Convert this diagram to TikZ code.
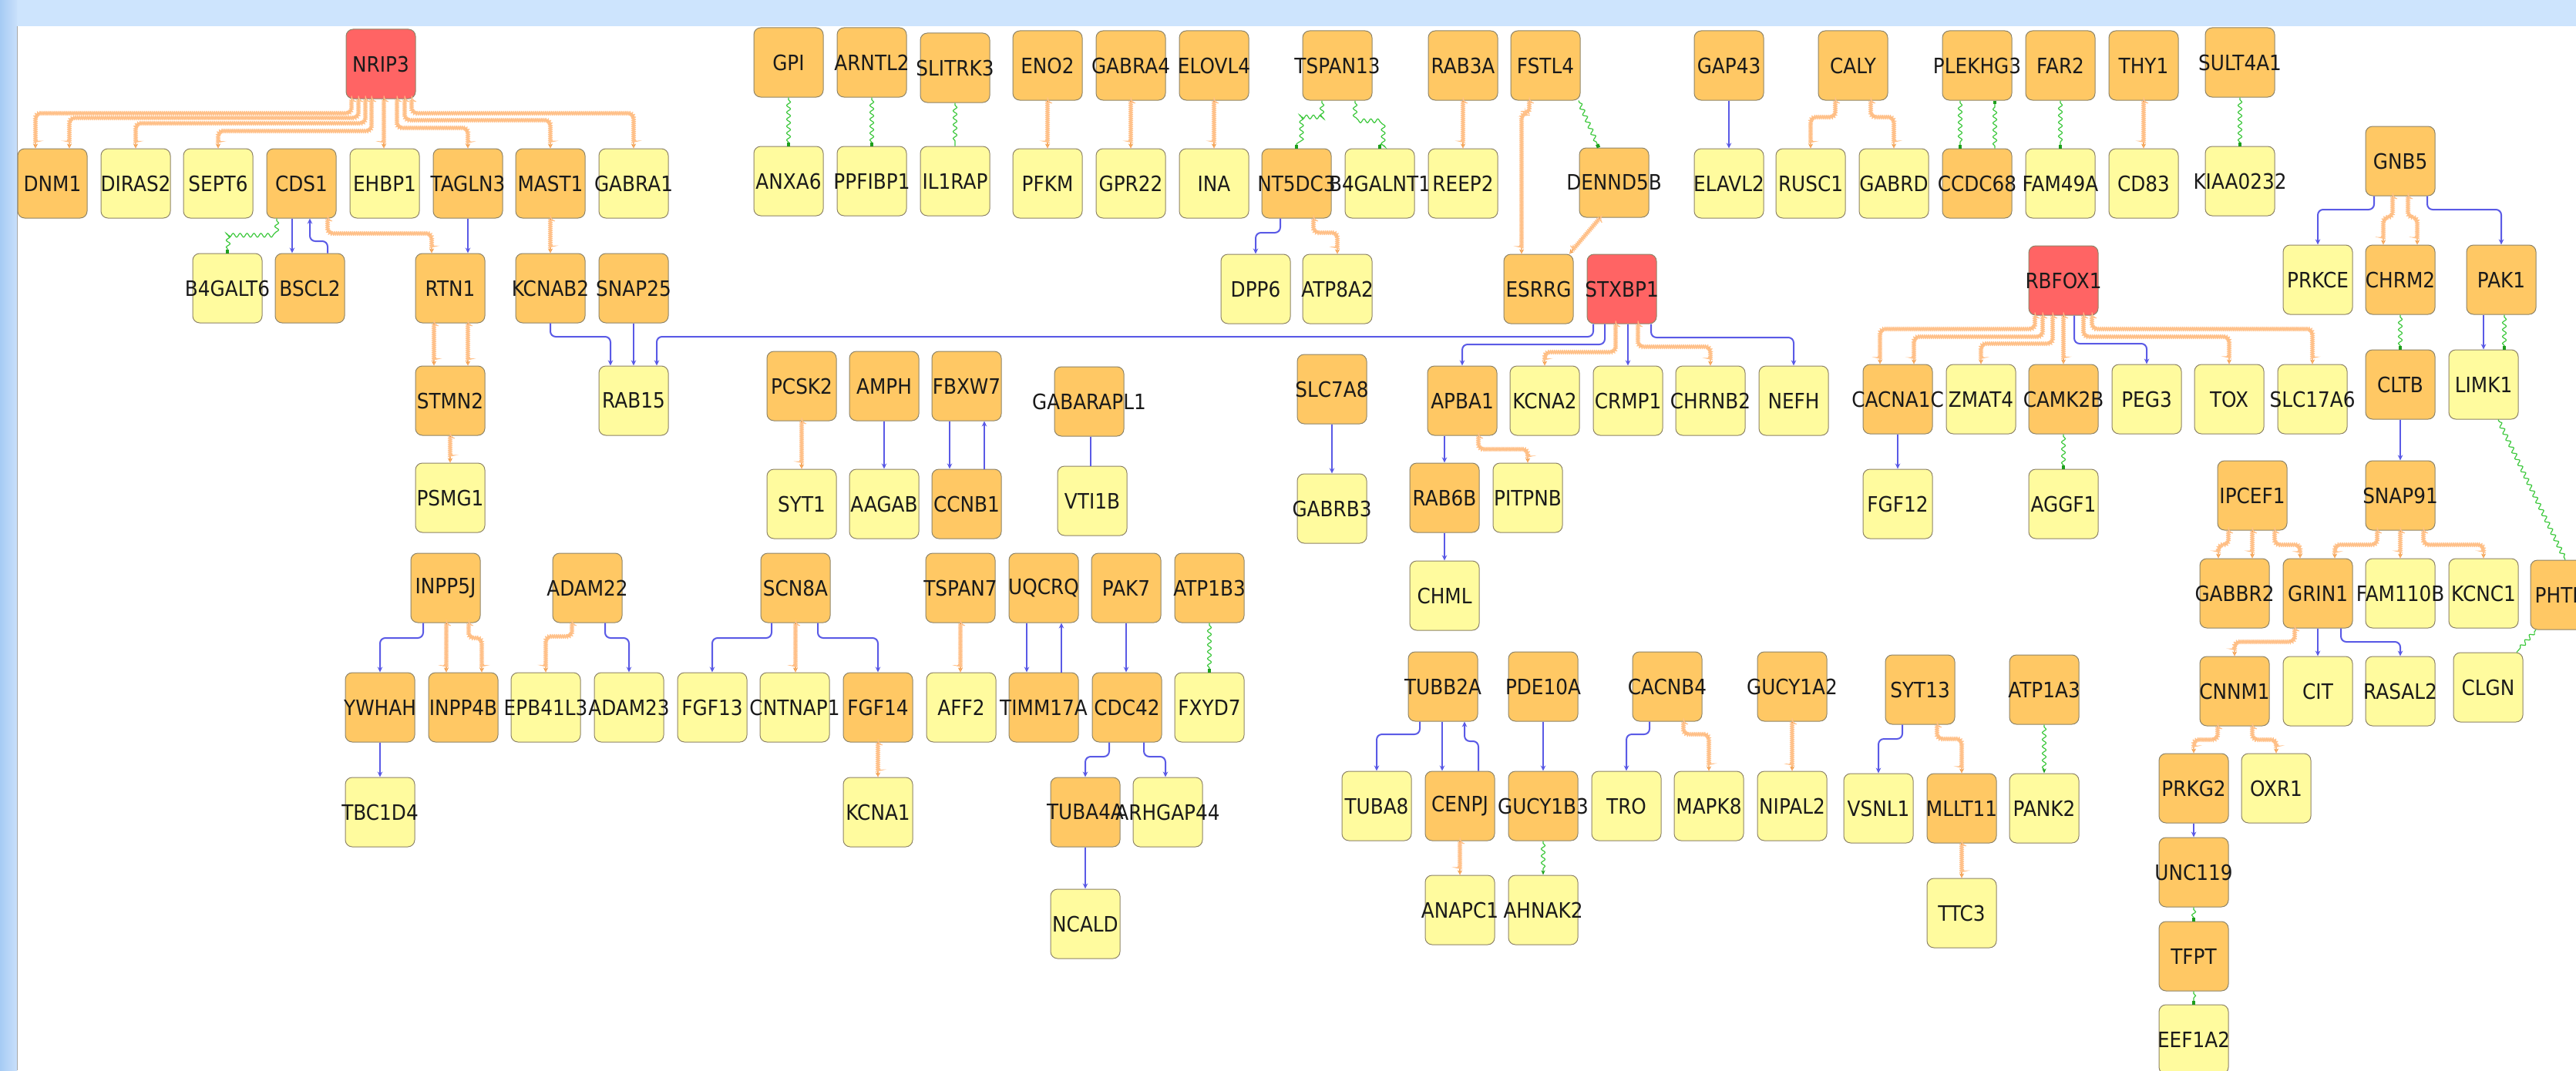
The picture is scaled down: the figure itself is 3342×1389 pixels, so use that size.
\documentclass[tikz,border=0pt]{standalone}
\usepackage{fontspec}
\setmainfont{DejaVu Sans}
\newfontfamily\nodefont[FakeStretch=0.9]{DejaVu Sans}
\usetikzlibrary{arrows.meta,decorations.pathmorphing,calc}
\definecolor{ofill}{HTML}{FFC864}
\definecolor{yfill}{HTML}{FFFB9E}
\definecolor{rfill}{HTML}{FF6464}
\definecolor{nborder}{HTML}{8E8468}
\definecolor{ntext}{HTML}{1A1A1A}
\definecolor{olight}{HTML}{FFC088}
\definecolor{odark}{HTML}{F0963E}
\definecolor{bline}{HTML}{5A5AE6}
\definecolor{gline}{HTML}{3CC83C}
\definecolor{gdark}{HTML}{1E9E1E}
\definecolor{topblue}{HTML}{CDE4FD}
\definecolor{leftdark}{HTML}{A6CBF4}
\definecolor{leftlight}{HTML}{C9E0FB}
\newcommand\gn[4]{\node[#2] (#1) at (#3,#4) {\makebox[0pt]{#1}};}
\newcommand\ebw[6]{\draw[#1] let \p1=([xshift=#3pt]#2.south), \p2=([xshift=#6pt]#5.north) in (\p1) -- (\x1,-#4pt) -- (\x2,-#4pt) -- (\p2);}
\newcommand\ebu[6]{\draw[#1] let \p1=([xshift=#3pt]#2.north), \p2=([xshift=#6pt]#5.south) in (\p1) -- (\x1,-#4pt) -- (\x2,-#4pt) -- (\p2);}
\newcommand\stv[4]{\draw[#1] let \p1=([xshift=#3pt]#2.south), \p2=(#4.north) in (\p1) -- (\x1,\y2);}
\newcommand\stu[4]{\draw[#1] let \p1=([xshift=#3pt]#2.north), \p2=(#4.south) in (\p1) -- (\x1,\y2);}
\begin{document}
\begin{tikzpicture}[x=1pt,y=-1pt,
  gbox/.style={rectangle, rounded corners=9pt, draw=nborder, line width=1pt, minimum width=90pt, minimum height=90pt, inner sep=0pt, text=ntext, font=\nodefont\fontsize{27.5}{30}\selectfont},
  nodeO/.style={gbox, fill=ofill},
  nodeY/.style={gbox, fill=yfill},
  nodeR/.style={gbox, fill=rfill},
  og/.style={draw=odark, line width=1.4pt, rounded corners=6pt, -{Stealth[length=6pt,width=6pt,color=odark]},
    postaction={draw=olight, line width=1pt, -, decorate, decoration={zigzag, segment length=2.6pt, amplitude=2.8pt, pre length=2pt, post length=7pt}}},
  bl/.style={draw=bline, line width=2pt, rounded corners=7pt, -{Stealth[length=7pt,width=6.5pt]}},
  bln/.style={bl, -},
  gw/.style={draw=gline, line width=1.2pt, decorate, decoration={snake, amplitude=2.5pt, segment length=9pt, pre length=3pt, post length=4pt}, -{Square[length=4.5pt,width=4.5pt,color=gdark]}},
  gwn/.style={gw, -},
  gwa/.style={gw, -{Stealth[length=6pt,width=5pt,color=gdark]}}
]
\useasboundingbox (0,0) rectangle (3342,1389);
\clip (0,0) rectangle (3342,1389);
% background
\fill[topblue] (0,0) rectangle (3342,34);
\shade[left color=leftdark, right color=leftlight] (0,0) rectangle (22,1389);
\fill[white] (22,34) rectangle (3342,1389);
\draw[gray!70, line width=1.2pt] (22.5,34) -- (22.5,1389);

% ---------- nodes ----------
\gn{NRIP3}{nodeR}{494}{83}
\gn{DNM1}{nodeO}{68}{238}
\gn{DIRAS2}{nodeY}{176}{238}
\gn{SEPT6}{nodeY}{283}{238}
\gn{CDS1}{nodeO}{391}{238}
\gn{EHBP1}{nodeY}{499}{238}
\gn{TAGLN3}{nodeO}{607}{238}
\gn{MAST1}{nodeO}{714}{238}
\gn{GABRA1}{nodeY}{822}{238}
\gn{B4GALT6}{nodeY}{295}{374}
\gn{BSCL2}{nodeO}{402}{374}
\gn{RTN1}{nodeO}{584}{374}
\gn{KCNAB2}{nodeO}{714}{374}
\gn{SNAP25}{nodeO}{822}{374}
\gn{STMN2}{nodeO}{584}{520}
\gn{RAB15}{nodeY}{822}{520}
\gn{PSMG1}{nodeY}{584}{646}
\gn{INPP5J}{nodeO}{578}{763}
\gn{ADAM22}{nodeO}{762}{763}
\gn{YWHAH}{nodeO}{493}{918}
\gn{INPP4B}{nodeO}{601}{918}
\gn{EPB41L3}{nodeY}{708}{918}
\gn{ADAM23}{nodeY}{816}{918}
\gn{FGF13}{nodeY}{924}{918}
\gn{CNTNAP1}{nodeY}{1031}{918}
\gn{FGF14}{nodeO}{1139}{918}
\gn{AFF2}{nodeY}{1247}{918}
\gn{TIMM17A}{nodeO}{1354}{918}
\gn{CDC42}{nodeO}{1462}{918}
\gn{FXYD7}{nodeY}{1569}{918}
\gn{TBC1D4}{nodeY}{493}{1054}
\gn{KCNA1}{nodeY}{1139}{1054}
\gn{TUBA4A}{nodeO}{1408}{1054}
\gn{ARHGAP44}{nodeY}{1515}{1054}
\gn{NCALD}{nodeY}{1408}{1199}
\gn{SCN8A}{nodeO}{1032}{763}
\gn{TSPAN7}{nodeO}{1246}{763}
\gn{UQCRQ}{nodeO}{1354}{763}
\gn{PAK7}{nodeO}{1461}{763}
\gn{ATP1B3}{nodeO}{1569}{763}
\gn{PCSK2}{nodeO}{1040}{501}
\gn{AMPH}{nodeO}{1147}{501}
\gn{FBXW7}{nodeO}{1254}{501}
\gn{GABARAPL1}{nodeO}{1413}{521}
\gn{SLC7A8}{nodeO}{1728}{505}
\gn{SYT1}{nodeY}{1040}{654}
\gn{AAGAB}{nodeY}{1147}{654}
\gn{CCNB1}{nodeO}{1254}{654}
\gn{VTI1B}{nodeY}{1417}{650}
\gn{GABRB3}{nodeY}{1728}{660}
\gn{GPI}{nodeO}{1023}{81}
\gn{ARNTL2}{nodeO}{1131}{81}
\gn{SLITRK3}{nodeO}{1239}{88}
\gn{ENO2}{nodeO}{1359}{85}
\gn{GABRA4}{nodeO}{1467}{85}
\gn{ELOVL4}{nodeO}{1575}{85}
\gn{TSPAN13}{nodeO}{1735}{85}
\gn{ANXA6}{nodeY}{1023}{235}
\gn{PPFIBP1}{nodeY}{1131}{235}
\gn{IL1RAP}{nodeY}{1239}{235}
\gn{PFKM}{nodeY}{1359}{238}
\gn{GPR22}{nodeY}{1467}{238}
\gn{INA}{nodeY}{1575}{238}
\gn{NT5DC3}{nodeO}{1682}{238}
\gn{B4GALNT1}{nodeY}{1790}{238}
\gn{DPP6}{nodeY}{1629}{375}
\gn{ATP8A2}{nodeY}{1735}{375}
\gn{RAB3A}{nodeO}{1898}{85}
\gn{FSTL4}{nodeO}{2005}{85}
\gn{REEP2}{nodeY}{1898}{238}
\gn{DENND5B}{nodeO}{2094}{237}
\gn{ESRRG}{nodeO}{1996}{375}
\gn{STXBP1}{nodeR}{2104}{375}
\gn{GAP43}{nodeO}{2243}{85}
\gn{CALY}{nodeO}{2404}{85}
\gn{PLEKHG3}{nodeO}{2565}{85}
\gn{FAR2}{nodeO}{2673}{85}
\gn{THY1}{nodeO}{2781}{85}
\gn{SULT4A1}{nodeO}{2906}{81}
\gn{ELAVL2}{nodeY}{2243}{238}
\gn{RUSC1}{nodeY}{2349}{238}
\gn{GABRD}{nodeY}{2457}{238}
\gn{CCDC68}{nodeO}{2565}{238}
\gn{FAM49A}{nodeY}{2673}{238}
\gn{CD83}{nodeY}{2781}{238}
\gn{KIAA0232}{nodeY}{2906}{235}
\gn{GNB5}{nodeO}{3114}{209}
\gn{PRKCE}{nodeY}{3007}{363}
\gn{CHRM2}{nodeO}{3114}{363}
\gn{PAK1}{nodeO}{3245}{363}
\gn{RBFOX1}{nodeR}{2677}{364}
\gn{APBA1}{nodeO}{1897}{520}
\gn{KCNA2}{nodeY}{2004}{520}
\gn{CRMP1}{nodeY}{2112}{520}
\gn{CHRNB2}{nodeY}{2219}{520}
\gn{NEFH}{nodeY}{2327}{520}
\gn{CACNA1C}{nodeO}{2462}{518}
\gn{ZMAT4}{nodeY}{2570}{518}
\gn{CAMK2B}{nodeO}{2677}{518}
\gn{PEG3}{nodeY}{2785}{518}
\gn{TOX}{nodeY}{2892}{518}
\gn{SLC17A6}{nodeY}{3000}{518}
\gn{CLTB}{nodeO}{3114}{499}
\gn{LIMK1}{nodeY}{3222}{499}
\gn{RAB6B}{nodeO}{1874}{646}
\gn{PITPNB}{nodeY}{1982}{646}
\gn{CHML}{nodeY}{1874}{773}
\gn{FGF12}{nodeY}{2462}{654}
\gn{AGGF1}{nodeY}{2677}{654}
\gn{IPCEF1}{nodeO}{2922}{643}
\gn{SNAP91}{nodeO}{3114}{643}
\gn{GABBR2}{nodeO}{2899}{770}
\gn{GRIN1}{nodeO}{3007}{770}
\gn{FAM110B}{nodeY}{3114}{770}
\gn{KCNC1}{nodeY}{3222}{770}
\gn{PHTF1}{nodeO}{3328}{772}
\gn{CNNM1}{nodeO}{2899}{897}
\gn{CIT}{nodeY}{3007}{897}
\gn{RASAL2}{nodeY}{3114}{897}
\gn{CLGN}{nodeY}{3228}{892}
\gn{ATP1A3}{nodeO}{2652}{895}
\gn{PANK2}{nodeY}{2652}{1049}
\gn{PRKG2}{nodeO}{2846}{1023}
\gn{OXR1}{nodeY}{2953}{1023}
\gn{UNC119}{nodeO}{2846}{1132}
\gn{TFPT}{nodeO}{2846}{1241}
\gn{EEF1A2}{nodeY}{2846}{1349}
\gn{TUBB2A}{nodeO}{1872}{891}
\gn{PDE10A}{nodeO}{2002}{891}
\gn{CACNB4}{nodeO}{2163}{891}
\gn{GUCY1A2}{nodeO}{2325}{891}
\gn{SYT13}{nodeO}{2491}{895}
\gn{TUBA8}{nodeY}{1786}{1046}
\gn{CENPJ}{nodeO}{1894}{1046}
\gn{GUCY1B3}{nodeO}{2002}{1046}
\gn{TRO}{nodeY}{2110}{1046}
\gn{MAPK8}{nodeY}{2217}{1046}
\gn{NIPAL2}{nodeY}{2325}{1046}
\gn{VSNL1}{nodeY}{2437}{1049}
\gn{MLLT11}{nodeO}{2545}{1049}
\gn{ANAPC1}{nodeY}{1894}{1181}
\gn{AHNAK2}{nodeY}{2002}{1181}
\gn{TTC3}{nodeY}{2545}{1185}

% ---------- edges ----------
% NRIP3 fan
\ebw{og}{NRIP3}{-38}{147}{DNM1}{-22}
\ebw{og}{NRIP3}{-29}{153}{DNM1}{22}
\ebw{og}{NRIP3}{-20}{160}{DIRAS2}{0}
\ebw{og}{NRIP3}{-12}{170}{SEPT6}{0}
\stv{og}{NRIP3}{4}{EHBP1}
\ebw{og}{NRIP3}{21}{166}{TAGLN3}{0}
\ebw{og}{NRIP3}{31}{156}{MAST1}{0}
\ebw{og}{NRIP3}{40}{147}{GABRA1}{0}
% CDS1 and neighbours
\ebw{gw}{CDS1}{-32}{300}{B4GALT6}{0}
\stv{bl}{CDS1}{-12}{BSCL2}
\ebu{bl}{BSCL2}{23}{313}{CDS1}{11}
\ebw{og}{CDS1}{34}{303}{RTN1}{-24}
\stv{bl}{TAGLN3}{0}{RTN1}
\stv{og}{MAST1}{0}{KCNAB2}
\stv{og}{RTN1}{-21}{STMN2}
\stv{og}{RTN1}{23}{STMN2}
\stv{og}{STMN2}{0}{PSMG1}
\ebw{bl}{KCNAB2}{0}{437}{RAB15}{-30}
\stv{bl}{SNAP25}{0}{RAB15}
% STXBP1 fan
\ebw{bl}{STXBP1}{-37}{437}{RAB15}{30}
\ebw{bl}{STXBP1}{-22}{447}{APBA1}{0}
\ebw{og}{STXBP1}{-8}{457}{KCNA2}{0}
\stv{bl}{STXBP1}{8}{CRMP1}
\ebw{og}{STXBP1}{21}{450}{CHRNB2}{0}
\ebw{bl}{STXBP1}{38}{438}{NEFH}{0}
% RBFOX1 fan
\ebw{og}{RBFOX1}{-37}{427}{CACNA1C}{-23}
\ebw{og}{RBFOX1}{-27}{437}{CACNA1C}{21}
\ebw{og}{RBFOX1}{-14}{446}{ZMAT4}{0}
\stv{og}{RBFOX1}{0}{CAMK2B}
\ebw{bl}{RBFOX1}{14}{446}{PEG3}{0}
\ebw{og}{RBFOX1}{26}{437}{TOX}{0}
\ebw{og}{RBFOX1}{37}{427}{SLC17A6}{0}
\stv{gw}{CAMK2B}{0}{AGGF1}
\stv{bl}{CACNA1C}{0}{FGF12}
% GNB5 group
\ebw{bl}{GNB5}{-34}{272}{PRKCE}{0}
\ebw{og}{GNB5}{-10}{282}{CHRM2}{-22}
\ebw{og}{GNB5}{10}{282}{CHRM2}{22}
\ebw{bl}{GNB5}{35}{272}{PAK1}{0}
\stv{gw}{CHRM2}{0}{CLTB}
\stv{bl}{PAK1}{-23}{LIMK1}
\stv{gw}{PAK1}{4}{LIMK1}
\draw[gwn] ([xshift=19pt]LIMK1.south) -- (PHTF1.north);
\draw[gwn] ([xshift=-38pt]PHTF1.south) -- ([xshift=37pt]CLGN.north);
\stv{bl}{CLTB}{0}{SNAP91}
\ebw{og}{IPCEF1}{-31}{707}{GABBR2}{-21}
\stv{og}{IPCEF1}{0}{GABBR2}
\ebw{og}{IPCEF1}{29}{707}{GRIN1}{-23}
\ebw{og}{SNAP91}{-30}{707}{GRIN1}{22}
\stv{og}{SNAP91}{0}{FAM110B}
\ebw{og}{SNAP91}{30}{707}{KCNC1}{0}
\ebw{og}{GRIN1}{-30}{833}{CNNM1}{0}
\stv{bl}{GRIN1}{0}{CIT}
\ebw{bl}{GRIN1}{30}{833}{RASAL2}{0}
\ebw{og}{CNNM1}{-22}{960}{PRKG2}{0}
\ebw{og}{CNNM1}{23}{960}{OXR1}{0}
\stv{bl}{PRKG2}{0}{UNC119}
\stv{gw}{UNC119}{0}{TFPT}
\stv{gw}{TFPT}{0}{EEF1A2}
\stv{gwa}{ATP1A3}{0}{PANK2}
% APBA1 and middle block
\stv{bl}{APBA1}{-23}{RAB6B}
\ebw{og}{APBA1}{21}{583}{PITPNB}{0}
\stv{bl}{RAB6B}{0}{CHML}
\stv{bl}{SLC7A8}{0}{GABRB3}
\stv{bln}{GABARAPL1}{2}{VTI1B}
\stv{bl}{FBXW7}{-22}{CCNB1}
\stu{bl}{CCNB1}{23}{FBXW7}
\stv{bl}{AMPH}{0}{AAGAB}
\stv{og}{PCSK2}{0}{SYT1}
% top row
\stv{gw}{GPI}{0}{ANXA6}
\stv{gw}{ARNTL2}{0}{PPFIBP1}
\stv{gwn}{SLITRK3}{0}{IL1RAP}
\stv{og}{ENO2}{0}{PFKM}
\stv{og}{GABRA4}{0}{GPR22}
\stv{og}{ELOVL4}{0}{INA}
\ebw{gw}{TSPAN13}{-20}{150}{NT5DC3}{0}
\ebw{gw}{TSPAN13}{23}{150}{B4GALNT1}{0}
\ebw{bl}{NT5DC3}{-21}{302}{DPP6}{0}
\ebw{og}{NT5DC3}{22}{302}{ATP8A2}{0}
\stv{og}{RAB3A}{0}{REEP2}
\ebw{og}{FSTL4}{-21}{147}{ESRRG}{-22}
\draw[gw] ([xshift=43pt]FSTL4.south) -- ([xshift=-20pt]DENND5B.north);
\draw[og] ([xshift=-18pt]DENND5B.south) -- ([xshift=40pt]ESRRG.north);
\stv{bl}{GAP43}{0}{ELAVL2}
\ebw{og}{CALY}{-23}{152}{RUSC1}{0}
\ebw{og}{CALY}{23}{152}{GABRD}{0}
\stv{gw}{PLEKHG3}{-22}{CCDC68}
\stu{gw}{CCDC68}{23}{PLEKHG3}
\stv{gw}{FAR2}{0}{FAM49A}
\stv{og}{THY1}{0}{CD83}
\stv{gw}{SULT4A1}{0}{KIAA0232}
% lower left block
\ebw{bl}{INPP5J}{-29}{828}{YWHAH}{0}
\stv{og}{INPP5J}{1}{INPP4B}
\ebw{og}{INPP5J}{30}{828}{INPP4B}{24}
\ebw{og}{ADAM22}{-20}{826}{EPB41L3}{0}
\ebw{bl}{ADAM22}{23}{828}{ADAM23}{0}
\ebw{bl}{SCN8A}{-31}{828}{FGF13}{0}
\stv{og}{SCN8A}{0}{CNTNAP1}
\ebw{bl}{SCN8A}{29}{828}{FGF14}{0}
\stv{bl}{YWHAH}{0}{TBC1D4}
\stv{og}{FGF14}{0}{KCNA1}
\stv{og}{TSPAN7}{0}{AFF2}
\stv{bl}{UQCRQ}{-22}{TIMM17A}
\stu{bl}{TIMM17A}{23}{UQCRQ}
\stv{bl}{PAK7}{0}{CDC42}
\stv{gw}{ATP1B3}{0}{FXYD7}
\ebw{bl}{CDC42}{-23}{982}{TUBA4A}{0}
\ebw{bl}{CDC42}{22}{982}{ARHGAP44}{-3}
\stv{bl}{TUBA4A}{0}{NCALD}
% lower middle block
\ebw{bl}{TUBB2A}{-30}{953}{TUBA8}{0}
\stv{bl}{TUBB2A}{-1}{CENPJ}
\ebu{bl}{CENPJ}{24}{962}{TUBB2A}{28}
\stv{bl}{PDE10A}{0}{GUCY1B3}
\ebw{bl}{CACNB4}{-23}{953}{TRO}{0}
\ebw{og}{CACNB4}{21}{953}{MAPK8}{0}
\stv{og}{GUCY1A2}{0}{NIPAL2}
\ebw{bl}{SYT13}{-23}{959}{VSNL1}{0}
\ebw{og}{SYT13}{22}{959}{MLLT11}{0}
\stv{og}{CENPJ}{0}{ANAPC1}
\stv{gwa}{GUCY1B3}{0}{AHNAK2}
\stv{og}{MLLT11}{0}{TTC3}
\end{tikzpicture}
\end{document}
